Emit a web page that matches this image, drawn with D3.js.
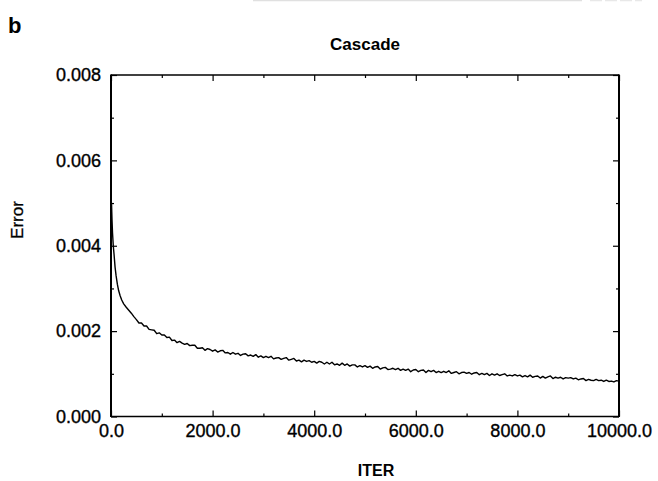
<!DOCTYPE html>
<html>
<head>
<meta charset="utf-8">
<script src="https://cdn.jsdelivr.net/npm/d3@7"></script>
<style>
  html, body { margin: 0; padding: 0; background: #fff; }
  svg { display: block; font-family: "Liberation Sans", Arial, Helvetica, sans-serif; }
</style>
</head>
<body>
<svg id="chart" width="658" height="481"></svg>
<script>
// ---- data ----
const panelLabel = "b";
const chartTitle = "Cascade";
const xLabel = "ITER";
const yLabel = "Error";
const xTicks = [0, 2000, 4000, 6000, 8000, 10000];
const xMinorTicks = [1000, 3000, 5000, 7000, 9000];
const yTicks = [0, 0.002, 0.004, 0.006, 0.008];
const yMinorTicks = [0.001, 0.003, 0.005, 0.007];

// iteration numbers of the sampled points
const iters = [
  0, 10, 20, 30, 45, 60, 80, 100, 125, 150, 180, 211, 250, 300, 350, 400, 450,
  500, 550, 600, 650, 700, 750, 800, 850, 900, 950, 1000,
  1050, 1100, 1150, 1200, 1250, 1300, 1350, 1400, 1450, 1500,
  1550, 1600, 1650, 1700, 1750, 1800, 1850, 1900, 1950, 2000,
  2050, 2100, 2150, 2200, 2250, 2300, 2350, 2400, 2450, 2500,
  2550, 2600, 2650, 2700, 2750, 2800, 2850, 2900, 2950, 3000,
  3050, 3100, 3150, 3200, 3250, 3300, 3350, 3400, 3450, 3500,
  3550, 3600, 3650, 3700, 3750, 3800, 3850, 3900, 3950, 4000,
  4050, 4100, 4150, 4200, 4250, 4300, 4350, 4400, 4450, 4500,
  4550, 4600, 4650, 4700, 4750, 4800, 4850, 4900, 4950, 5000,
  5050, 5100, 5150, 5200, 5250, 5300, 5350, 5400, 5450, 5500,
  5550, 5600, 5650, 5700, 5750, 5800, 5850, 5900, 5950, 6000,
  6050, 6100, 6150, 6200, 6250, 6300, 6350, 6400, 6450, 6500,
  6550, 6600, 6650, 6700, 6750, 6800, 6850, 6900, 6950, 7000,
  7050, 7100, 7150, 7200, 7250, 7300, 7350, 7400, 7450, 7500,
  7550, 7600, 7650, 7700, 7750, 7800, 7850, 7900, 7950, 8000,
  8050, 8100, 8150, 8200, 8250, 8300, 8350, 8400, 8450, 8500,
  8550, 8600, 8650, 8700, 8750, 8800, 8850, 8900, 8950, 9000,
  9050, 9100, 9150, 9200, 9250, 9300, 9350, 9400, 9450, 9500,
  9550, 9600, 9650, 9700, 9750, 9800, 9850, 9900, 9950, 10000
];
// error
const errors = [
  0.00480, 0.00500, 0.00460, 0.00430, 0.00400, 0.00380, 0.00350, 0.00330, 0.00310, 0.00295,
  0.00283, 0.00273, 0.00264, 0.00256, 0.00249, 0.00242, 0.00234,
  0.00227, 0.00219, 0.00219, 0.00212, 0.00212, 0.00204, 0.00203, 0.00202, 0.00194, 0.00196, 0.00191,
  0.00191, 0.00185, 0.00186, 0.00178, 0.00179, 0.00173, 0.00176, 0.00172, 0.00169, 0.00171,
  0.00166, 0.00167, 0.00167, 0.00160, 0.00160, 0.00161, 0.00155, 0.00159, 0.00157, 0.00153,
  0.00156, 0.00151, 0.00154, 0.00155, 0.00149, 0.00150, 0.00146, 0.00150, 0.00146, 0.00148,
  0.00143, 0.00146, 0.00147, 0.00142, 0.00144, 0.00141, 0.00145, 0.00139, 0.00142, 0.00138,
  0.00141, 0.00138, 0.00141, 0.00135, 0.00137, 0.00138, 0.00134, 0.00136, 0.00138, 0.00132,
  0.00134, 0.00136, 0.00130, 0.00132, 0.00128, 0.00132, 0.00129, 0.00131, 0.00127, 0.00129,
  0.00125, 0.00129, 0.00127, 0.00123, 0.00127, 0.00123, 0.00127, 0.00121, 0.00123, 0.00120,
  0.00125, 0.00120, 0.00123, 0.00118, 0.00121, 0.00121, 0.00116, 0.00119, 0.00116, 0.00119,
  0.00115, 0.00118, 0.00113, 0.00116, 0.00117, 0.00111, 0.00114, 0.00115, 0.00110, 0.00111,
  0.00113, 0.00110, 0.00113, 0.00108, 0.00111, 0.00108, 0.00111, 0.00105, 0.00109, 0.00110,
  0.00105, 0.00108, 0.00109, 0.00103, 0.00108, 0.00105, 0.00108, 0.00103, 0.00106, 0.00103,
  0.00106, 0.00103, 0.00107, 0.00101, 0.00103, 0.00105, 0.00100, 0.00103, 0.00104, 0.00101,
  0.00103, 0.00099, 0.00102, 0.00103, 0.00098, 0.00101, 0.00098, 0.00101, 0.00096, 0.00100,
  0.00097, 0.00100, 0.00096, 0.00098, 0.00100, 0.00095, 0.00097, 0.00095, 0.00098, 0.00095,
  0.00097, 0.00093, 0.00096, 0.00093, 0.00097, 0.00092, 0.00094, 0.00095, 0.00090, 0.00094,
  0.00090, 0.00093, 0.00095, 0.00089, 0.00092, 0.00090, 0.00092, 0.00088, 0.00091, 0.00090,
  0.00091, 0.00088, 0.00090, 0.00086, 0.00088, 0.00089, 0.00084, 0.00087, 0.00085, 0.00084,
  0.00087, 0.00084, 0.00085, 0.00082, 0.00085, 0.00082, 0.00083, 0.00081, 0.00084, 0.00083
];

// ---- layout ----
const svg = d3.select("#chart");
const pLeft = 111, pRight = 619, pTop = 75, pBottom = 416.5;

const x = d3.scaleLinear().domain([0, 10000]).range([pLeft, pRight]);
const y = d3.scaleLinear().domain([0, 0.008]).range([pBottom, pTop]);

// faint scan artefact at the top edge
svg.append("line").attr("x1", 253).attr("x2", 582).attr("y1", 0.5).attr("y2", 0.5)
  .attr("stroke", "#e0e0e0").attr("stroke-width", 1.5);
svg.append("line").attr("x1", 590).attr("x2", 642).attr("y1", 0.5).attr("y2", 0.5)
  .attr("stroke", "#e8e8e8").attr("stroke-width", 1.5).attr("stroke-dasharray", "12,3");

// panel letter and title
svg.append("text").attr("x", 8).attr("y", 33)
  .attr("font-size", 22).attr("font-weight", "bold").text(panelLabel);
svg.append("text").attr("x", 365).attr("y", 50).attr("text-anchor", "middle")
  .attr("font-size", 17).attr("font-weight", "bold").text(chartTitle);

// axes
function styleAxis(g) {
  g.select(".domain").remove();
  g.selectAll(".tick line").attr("stroke", "#000").attr("stroke-width", 1.2);
  g.selectAll(".tick text").attr("fill", "#000").attr("font-size", 18)
    .attr("stroke", "#000").attr("stroke-width", 0.35)
    .attr("font-family", "'Liberation Sans', Arial, sans-serif");
}

svg.append("g").attr("transform", `translate(0,${pBottom})`)
  .call(d3.axisBottom(x).tickValues(xTicks).tickFormat(d3.format(".1f"))
    .tickSize(-6).tickPadding(8))
  .call(styleAxis);
svg.append("g").attr("transform", `translate(0,${pBottom})`)
  .call(d3.axisBottom(x).tickValues(xMinorTicks).tickFormat("").tickSize(-3))
  .call(styleAxis);

svg.append("g").attr("transform", `translate(0,${pTop})`)
  .call(d3.axisTop(x).tickValues(xTicks).tickFormat("").tickSize(-6))
  .call(styleAxis);
svg.append("g").attr("transform", `translate(0,${pTop})`)
  .call(d3.axisTop(x).tickValues(xMinorTicks).tickFormat("").tickSize(-3))
  .call(styleAxis);

svg.append("g").attr("transform", `translate(${pLeft},0)`)
  .call(d3.axisLeft(y).tickValues(yTicks).tickFormat(d3.format(".3f"))
    .tickSize(-6).tickPadding(10))
  .call(styleAxis);
svg.append("g").attr("transform", `translate(${pLeft},0)`)
  .call(d3.axisLeft(y).tickValues(yMinorTicks).tickFormat("").tickSize(-3))
  .call(styleAxis);

svg.append("g").attr("transform", `translate(${pRight},0)`)
  .call(d3.axisRight(y).tickValues(yTicks).tickFormat("").tickSize(-6))
  .call(styleAxis);
svg.append("g").attr("transform", `translate(${pRight},0)`)
  .call(d3.axisRight(y).tickValues(yMinorTicks).tickFormat("").tickSize(-3))
  .call(styleAxis);

// frame
svg.append("line").attr("x1", pLeft).attr("x2", pRight).attr("y1", pTop).attr("y2", pTop)
  .attr("stroke", "#000").attr("stroke-width", 1.5);
svg.append("line").attr("x1", pLeft).attr("x2", pRight).attr("y1", pBottom).attr("y2", pBottom)
  .attr("stroke", "#000").attr("stroke-width", 1.3);
svg.append("line").attr("x1", pLeft).attr("x2", pLeft).attr("y1", pTop - 0.5).attr("y2", pBottom + 0.5)
  .attr("stroke", "#000").attr("stroke-width", 2);
svg.append("line").attr("x1", pRight).attr("x2", pRight).attr("y1", pTop - 0.5).attr("y2", pBottom + 0.5)
  .attr("stroke", "#000").attr("stroke-width", 2);

// curve
const data = iters.map((d, i) => ({ it: d, err: errors[i] }));
svg.append("path").datum(data)
  .attr("fill", "none").attr("stroke", "#000").attr("stroke-width", 1.4)
  .attr("stroke-linejoin", "round")
  .attr("d", d3.line().x(d => x(d.it)).y(d => y(d.err)));

// axis titles
svg.append("text").attr("x", (pLeft + pRight) / 2 + 11).attr("y", 476)
  .attr("text-anchor", "middle").attr("font-size", 16).attr("font-weight", "bold").text(xLabel);
svg.append("text").attr("transform", "translate(23,220) rotate(-90)")
  .attr("text-anchor", "middle").attr("font-size", 17)
  .attr("stroke", "#000").attr("stroke-width", 0.3).text(yLabel);
</script>
</body>
</html>
